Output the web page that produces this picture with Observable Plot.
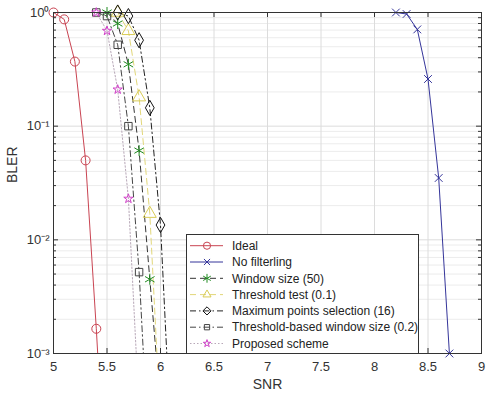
<!DOCTYPE html>
<html><head><meta charset="utf-8">
<script src="https://cdn.jsdelivr.net/npm/d3@7"></script>
<script src="https://cdn.jsdelivr.net/npm/@observablehq/plot@0.6"></script>
<style>
body{margin:0;background:#fff}
svg{font-family:"Liberation Sans",Arial,sans-serif}
</style>
</head><body><div id="chart"></div>
<script>
// ---- data ----
const seriesNames = ["Ideal","No filterling","Window size (50)","Threshold test (0.1)",
  "Maximum points selection (16)","Threshold-based window size (0.2)","Proposed scheme"];
const snrIdeal = [5.0, 5.1, 5.2, 5.3, 5.4, 5.5];
const blerIdeal = [1, 0.87, 0.37, 0.05, 0.00165, 0.000035];
const snrNoFilter = [8.2, 8.3, 8.4, 8.5, 8.6, 8.7];
const blerNoFilter = [1, 0.97, 0.71, 0.26, 0.035, 0.001];
const snrWindow = [5.5, 5.6, 5.7, 5.8, 5.9, 6.0];
const blerWindow = [1, 0.8, 0.35, 0.061, 0.0045, 0.00035];
const snrThreshold = [5.6, 5.7, 5.8, 5.9, 6.0];
const blerThreshold = [1, 0.69, 0.18, 0.017, 0.00024];
const snrMaxPoints = [5.6, 5.7, 5.8, 5.9, 6.0, 6.1];
const blerMaxPoints = [1, 0.93, 0.57, 0.145, 0.0135, 0.00016];
const snrThrWindow = [5.4, 5.5, 5.6, 5.7, 5.8, 5.9];
const blerThrWindow = [1, 0.93, 0.52, 0.1, 0.0052, 0.000085];
const snrProposed = [5.4, 5.5, 5.6, 5.7, 5.8];
const blerProposed = [1, 0.69, 0.21, 0.023, 0.00032];

const xTicks = [5, 5.5, 6, 6.5, 7, 7.5, 8, 8.5, 9];
const yTicks = [1e-3, 1e-2, 1e-1, 1];
const yTickLabels = ["10\u207B\u00B3", "10\u207B\u00B2", "10\u207B\u00B9", "10\u2070"];
const yMinor = [2e-3,3e-3,4e-3,5e-3,6e-3,7e-3,8e-3,9e-3,
                2e-2,3e-2,4e-2,5e-2,6e-2,7e-2,8e-2,9e-2,
                2e-1,3e-1,4e-1,5e-1,6e-1,7e-1,8e-1,9e-1];

// ---- styles ----
const styles = [
  {line:"#c94452", marker:"#c94452", dash:null, symbol:"circle", r:4.5},
  {line:"#35359a", marker:"#35359a", dash:null, symbol:"times", r:3.6},
  {line:"#333333", marker:"#1f8a1f", dash:"6,4", symbol:"asterisk", r:5.2},
  {line:"#e2d77a", marker:"#d9cc55", dash:"6,4", symbol:"triangle", r:4.8},
  {line:"#222222", marker:"#111111", dash:"6,3,1.5,3", symbol:"diamond", r:4.6},
  {line:"#444444", marker:"#444444", dash:"6,3,1.5,3", symbol:"square", r:4.2},
  {line:"#b8a8b8", marker:"#d040c8", dash:"1.5,2", symbol:"star", r:2.9}
];
const snrs = [snrIdeal, snrNoFilter, snrWindow, snrThreshold, snrMaxPoints, snrThrWindow, snrProposed];
const blers = [blerIdeal, blerNoFilter, blerWindow, blerThreshold, blerMaxPoints, blerThrWindow, blerProposed];

const series = seriesNames.map((name, i) => ({
  name, ...styles[i],
  rows: snrs[i].map((s, j) => ({snr: s, bler: blers[i][j]}))
}));

const W = 488, H = 396;
const mL = 53, mR = 7, mT = 12, mB = 43;
const pw = W - mL - mR, ph = H - mT - mB;

const marks = [
  Plot.ruleY(yMinor, {y: d => d, stroke: "#ececec", strokeWidth: 1}),
  Plot.ruleX(xTicks.slice(1, -1), {x: d => d, stroke: "#dcdcdc", strokeWidth: 1}),
  Plot.ruleY(yTicks.slice(1, -1), {y: d => d, stroke: "#dcdcdc", strokeWidth: 1}),
];
for (const s of series) {
  marks.push(Plot.line(s.rows, {x: "snr", y: "bler", stroke: s.line, strokeWidth: 1,
    strokeDasharray: s.dash, clip: true}));
}
for (const s of series) {
  marks.push(Plot.dot(s.rows.filter(d => d.bler >= 1e-3), {x: "snr", y: "bler", symbol: () => s.symbol,
    r: s.r, stroke: s.marker, fill: "none", strokeWidth: 1}));
}
marks.push(
  Plot.frame({stroke: "#333", strokeWidth: 1}),
  Plot.tickX(xTicks, {x: d => d, insetTop: ph - 5, stroke: "#333"}),
  Plot.tickX(xTicks, {x: d => d, insetBottom: ph - 5, stroke: "#333"}),
  Plot.tickY(yTicks, {y: d => d, insetRight: pw - 5, stroke: "#333"}),
  Plot.tickY(yTicks, {y: d => d, insetLeft: pw - 5, stroke: "#333"}),
  Plot.tickY(yMinor, {y: d => d, insetRight: pw - 3, stroke: "#333"}),
  Plot.tickY(yMinor, {y: d => d, insetLeft: pw - 3, stroke: "#333"}),
  Plot.axisX(xTicks, {anchor: "bottom", tickSize: 0, tickPadding: 8, fontSize: 13, fill: "#333",
    tickFormat: d => String(d), label: null}),
  Plot.axisY(yTicks, {anchor: "left", tickSize: 0, tickPadding: 4, fontSize: 13, fill: "#333",
    tickFormat: d => yTickLabels[yTicks.indexOf(d)], label: null}),
  Plot.text(["SNR"], {frameAnchor: "bottom", text: d => d, dy: 35, fontSize: 14, fill: "#333"}),
  Plot.text(["BLER"], {frameAnchor: "left", text: d => d, dx: -41, rotate: -90, fontSize: 14, fill: "#333"})
);

const chart = Plot.plot({
  width: W, height: H,
  marginLeft: mL, marginRight: mR, marginTop: mT, marginBottom: mB,
  x: {domain: [5, 9]},
  y: {type: "log", domain: [1e-3, 1]},
  style: {fontFamily: '"Liberation Sans", Arial, sans-serif', background: "#fff"},
  marks
});
document.getElementById("chart").appendChild(chart);

// ---- legend (decoration inside the axes) ----
const svg = d3.select(chart);
const lg = svg.append("g").attr("font-size", 12).attr("fill", "#222").attr("text-anchor", "start");
const lx0 = 186, ly0 = 234, lx1 = 418, ly1 = H - mB;
lg.append("rect").attr("x", lx0 + 0.5).attr("y", ly0 + 0.5)
  .attr("width", lx1 - lx0).attr("height", ly1 - ly0)
  .attr("fill", "#fff").attr("stroke", "#333");
const symMap = {circle: d3.symbolCircle, times: d3.symbolTimes, asterisk: d3.symbolAsterisk,
  triangle: d3.symbolTriangle2, diamond: d3.symbolDiamond2, square: d3.symbolSquare2, star: d3.symbolStar};
series.forEach((s, i) => {
  const y = ly0 + 11.7 + i * 16.3;
  const rr = s.r * 0.8;
  lg.append("line").attr("x1", lx0 + 4).attr("x2", lx0 + 37).attr("y1", y).attr("y2", y)
    .attr("stroke", s.line).attr("stroke-width", 1).attr("stroke-dasharray", s.dash);
  lg.append("path").attr("transform", `translate(${lx0 + 21},${y})`)
    .attr("d", d3.symbol(symMap[s.symbol], Math.PI * rr * rr)())
    .attr("fill", "none").attr("stroke", s.marker);
  lg.append("text").attr("x", lx0 + 46).attr("y", y).attr("dy", "0.35em").text(s.name);
});
</script>
</body></html>
